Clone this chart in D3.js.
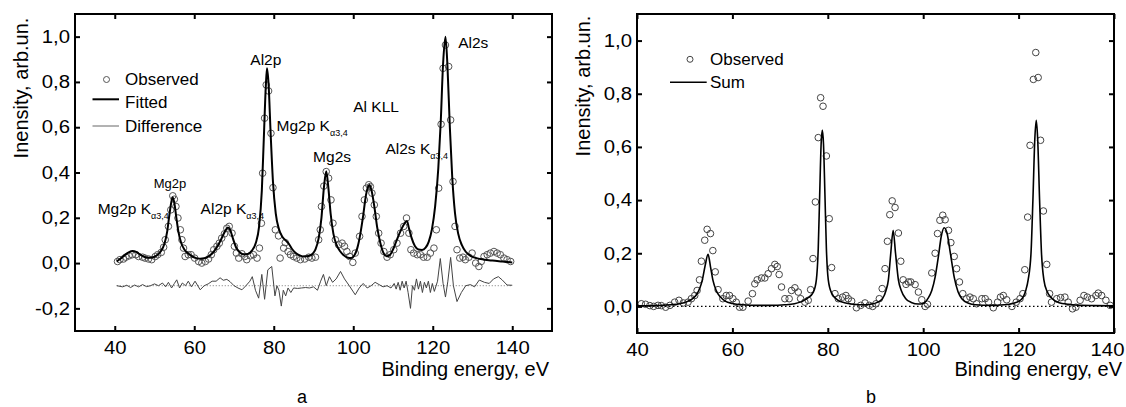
<!DOCTYPE html>
<html>
<head>
<meta charset="utf-8">
<script src="https://cdn.jsdelivr.net/npm/d3@7"></script>
<style>
  body { margin: 0; background: #fff; }
  svg { font-family: "Liberation Sans", Arial, sans-serif; }
  .tick text { font-size: 18px; fill: #000; }
  .tick line { stroke: #000; stroke-width: 2; }
</style>
</head>
<body>
<svg width="1126" height="407"></svg>
<script>
// ---- panel a: observed spectrum, fit and difference (energy eV, intensity)
const observedA = [
  [40.7,0.007],[41.3,0.015],[42.2,0.018],[42.8,0.026],[43.6,0.032],[44.4,0.037],[45.3,0.037],
  [46.0,0.029],[47.0,0.026],[47.6,0.022],[48.5,0.018],[49.3,0.015],[50.2,0.029],[50.8,0.037],
  [51.7,0.047],[52.3,0.070],[52.7,0.103],[53.5,0.162],[54.1,0.235],[54.6,0.297],[55.0,0.282],
  [55.4,0.250],[55.9,0.199],[56.5,0.147],[56.9,0.103],[57.3,0.066],[57.7,0.029],[58.5,0.037],
  [59.2,0.037],[60.1,0.022],[61.1,0.007],[61.9,0.000],[62.8,0.007],[63.6,0.018],[64.3,0.037],
  [64.9,0.059],[65.7,0.074],[66.3,0.088],[66.9,0.110],[67.6,0.129],[68.2,0.154],[68.8,0.162],
  [69.5,0.132],[70.1,0.074],[70.6,0.044],[71.2,0.022],[72.0,0.041],[72.7,0.029],[73.2,0.015],
  [74.1,0.032],[74.9,0.037],[75.8,0.022],[76.4,0.066],[76.9,0.176],[77.2,0.397],[77.7,0.640],
  [78.1,0.787],[78.7,0.760],[79.3,0.573],[79.8,0.333],[80.4,0.147],[81.2,0.120],[81.6,0.022],
  [82.5,0.066],[82.9,0.090],[83.6,0.051],[84.2,0.037],[85.0,0.029],[85.8,0.022],[86.7,0.015],
  [87.8,0.018],[88.8,0.026],[89.6,0.022],[90.5,0.026],[91.3,0.103],[91.7,0.147],[92.0,0.250],
  [92.6,0.340],[93.2,0.404],[93.8,0.375],[94.4,0.279],[94.9,0.176],[95.5,0.103],[96.3,0.081],
  [97.2,0.088],[97.8,0.074],[98.4,0.051],[99.1,0.029],[99.9,0.003],[100.5,0.044],[101.6,0.118],
  [102.2,0.206],[102.8,0.279],[103.3,0.331],[103.9,0.346],[104.3,0.338],[104.7,0.309],[105.3,0.257],
  [105.8,0.206],[106.4,0.132],[107.0,0.088],[107.7,0.051],[108.5,0.026],[109.3,0.037],[110.2,0.059],
  [111.0,0.088],[111.9,0.132],[112.7,0.162],[113.4,0.199],[114.0,0.132],[114.5,0.059],[115.2,0.044],
  [116.1,0.037],[116.9,0.037],[117.7,0.026],[118.6,0.026],[119.4,0.044],[120.3,0.066],[120.9,0.147],
  [121.5,0.331],[122.1,0.613],[122.6,0.860],[123.2,0.963],[124.0,0.868],[124.5,0.632],[125.1,0.360],
  [125.6,0.162],[126.1,0.059],[126.8,0.022],[127.6,0.026],[128.2,0.015],[129.1,0.026],[129.9,0.044],
  [130.8,0.000],[131.6,-0.015],[132.2,0.007],[132.9,0.029],[133.7,0.037],[134.5,0.044],[135.4,0.051],
  [136.2,0.044],[137.0,0.037],[137.9,0.022],[138.7,0.015],[139.6,0.007]
];

const fittedA = [
  [40.5,0.007],[41.5,0.02],[42.5,0.035],[43.5,0.047],[44.5,0.053],[45.5,0.048],[46.5,0.036],
  [47.5,0.027],[48.5,0.023],[49.5,0.025],[50.5,0.033],[51.5,0.05],[52.5,0.085],[53.2,0.14],
  [53.8,0.22],[54.3,0.275],[54.6,0.29],[55.0,0.265],[55.5,0.2],[56.0,0.14],[56.7,0.09],
  [57.5,0.06],[58.5,0.042],[59.5,0.03],[60.5,0.022],[61.5,0.019],[62.5,0.021],[63.5,0.028],
  [64.5,0.042],[65.5,0.065],[66.5,0.095],[67.3,0.125],[68.0,0.148],[68.5,0.157],[69.0,0.148],
  [69.7,0.11],[70.5,0.07],[71.5,0.047],[72.5,0.038],[73.5,0.04],[74.5,0.055],[75.5,0.09],
  [76.3,0.16],[77.0,0.32],[77.5,0.55],[78.0,0.78],[78.3,0.86],[78.7,0.79],[79.2,0.58],
  [79.8,0.36],[80.5,0.22],[81.3,0.15],[82.2,0.115],[83.0,0.1],[83.8,0.085],[84.7,0.06],
  [85.7,0.042],[86.7,0.033],[87.7,0.029],[88.7,0.031],[89.7,0.04],[90.5,0.06],[91.3,0.11],
  [92.0,0.2],[92.6,0.33],[93.2,0.405],[93.7,0.34],[94.3,0.22],[95.0,0.13],[95.8,0.08],
  [96.7,0.052],[97.7,0.033],[98.7,0.023],[99.5,0.022],[100.3,0.035],[101.0,0.065],[101.8,0.13],
  [102.5,0.21],[103.2,0.3],[103.7,0.335],[104.1,0.345],[104.6,0.32],[105.3,0.25],[106.0,0.16],
  [106.8,0.09],[107.6,0.045],[108.4,0.03],[109.2,0.035],[110.0,0.06],[110.8,0.095],[111.6,0.13],
  [112.4,0.16],[113.0,0.178],[113.5,0.186],[114.0,0.155],[114.7,0.11],[115.5,0.075],[116.4,0.06],
  [117.3,0.058],[118.2,0.068],[119.0,0.095],[119.8,0.15],[120.6,0.25],[121.4,0.42],[122.0,0.62],
  [122.6,0.88],[123.2,1.0],[123.7,0.87],[124.3,0.6],[124.9,0.38],[125.6,0.22],[126.4,0.13],
  [127.3,0.08],[128.3,0.05],[129.5,0.032],[131,0.022],[133,0.015],[135,0.011],[137.5,0.007],[140,0.003]
];

// difference curve as drawn (shifted down to the -0,1 level)
const differenceA = [
  [40.5,-0.100],[42,-0.105],[43,-0.098],[44,-0.108],[45,-0.097],[46,-0.105],[47,-0.095],[48,-0.104],
  [49,-0.100],[50,-0.092],[51,-0.100],[52,-0.088],[52.8,-0.105],[53.5,-0.085],[54.3,-0.110],[55,-0.090],
  [55.6,-0.074],[56.3,-0.110],[57,-0.088],[57.8,-0.100],[58.5,-0.080],[59.3,-0.105],[60.2,-0.080],
  [61.5,-0.118],[62.5,-0.100],[63.5,-0.092],[64.5,-0.080],[65.5,-0.080],[66.5,-0.065],[67.3,-0.076],
  [68.2,-0.072],[69,-0.082],[70,-0.100],[71,-0.110],[72,-0.118],[73,-0.100],[74,-0.080],[74.6,-0.060],
  [75.4,-0.120],[76.2,-0.155],[77,-0.050],[77.7,-0.160],[78.5,-0.030],[79.5,-0.015],[80.3,-0.145],
  [80.8,-0.100],[81.3,-0.120],[81.9,-0.190],[82.4,-0.120],[83,-0.145],[83.6,-0.110],[84.3,-0.130],
  [85,-0.110],[86,-0.112],[87,-0.110],[88,-0.108],[89,-0.110],[90,-0.105],[91,-0.120],[91.8,-0.080],
  [92.5,-0.050],[93.2,-0.100],[94,-0.060],[94.8,-0.085],[95.7,-0.070],[96.8,-0.037],[97.8,-0.070],
  [99,-0.100],[100.5,-0.140],[101.5,-0.110],[102.5,-0.090],[103.5,-0.110],[104.5,-0.100],[105.5,-0.085],
  [106.5,-0.095],[107.5,-0.105],[108.5,-0.100],[109.5,-0.110],[110.3,-0.090],[110.8,-0.115],
  [111.3,-0.085],[111.8,-0.120],[112.3,-0.080],[112.8,-0.110],[113.3,-0.080],[113.8,-0.130],
  [114.4,-0.200],[114.9,-0.100],[115.4,-0.120],[115.9,-0.070],[116.4,-0.115],[116.9,-0.080],
  [117.4,-0.130],[117.9,-0.085],[118.4,-0.110],[118.9,-0.080],[119.4,-0.130],[119.9,-0.090],
  [120.4,-0.125],[121.2,-0.080],[121.9,0.020],[122.6,-0.090],[123.2,-0.150],[123.8,-0.080],
  [124.5,0.025],[125.2,-0.100],[126.1,-0.170],[127.2,-0.130],[128.3,-0.100],[129.5,-0.095],
  [130.5,-0.105],[131.7,-0.075],[133,-0.085],[134.2,-0.090],[135.3,-0.070],[136.5,-0.060],
  [137.5,-0.075],[138.7,-0.097],[140,-0.098]
];
const differenceZero = -0.1;

// ---- panel b: observed spectrum and sum of components
const observedB = [
  [40.9,0.010],[41.8,0.008],[42.7,0.003],[43.5,0.000],[44.4,0.004],[45.1,0.003],[46.0,-0.003],
  [46.9,0.004],[47.9,0.016],[48.8,0.023],[49.7,0.013],[50.7,0.016],[51.4,0.029],[52.1,0.041],
  [52.6,0.060],[53.1,0.100],[53.5,0.170],[54.2,0.249],[54.7,0.290],[55.4,0.274],[55.9,0.210],
  [56.4,0.130],[57.0,0.063],[58.0,0.029],[58.7,0.041],[59.4,0.041],[60.1,0.029],[60.8,0.016],
  [61.5,-0.003],[62.2,-0.003],[63.3,0.020],[64.2,0.048],[64.7,0.085],[65.2,0.100],[66.1,0.107],
  [66.8,0.107],[67.5,0.123],[68.2,0.142],[68.9,0.158],[69.4,0.150],[69.8,0.120],[70.3,0.073],
  [71.0,0.029],[71.9,0.029],[72.4,0.060],[73.1,0.070],[73.8,0.054],[74.3,0.029],[75.2,0.016],
  [75.9,0.023],[76.4,0.063],[76.9,0.180],[77.4,0.393],[78.0,0.635],[78.5,0.785],[79.0,0.753],
  [79.7,0.566],[80.3,0.330],[80.8,0.146],[81.5,0.048],[82.2,0.029],[83.1,0.035],[83.8,0.041],
  [84.3,0.029],[85.0,0.020],[86.0,-0.005],[86.9,0.004],[87.8,0.013],[88.7,0.004],[89.4,0.000],
  [90.1,0.010],[90.8,0.029],[91.4,0.067],[92.0,0.142],[92.5,0.245],[93.0,0.345],[93.5,0.397],
  [94.1,0.372],[94.8,0.276],[95.3,0.170],[95.8,0.100],[96.4,0.083],[96.9,0.092],[97.4,0.092],
  [98.3,0.082],[99.0,0.054],[99.7,0.025],[100.4,0.000],[100.9,0.008],[101.8,0.126],[102.5,0.200],
  [103.0,0.274],[103.5,0.324],[104.1,0.343],[104.6,0.326],[105.3,0.286],[105.8,0.240],[106.5,0.188],
  [107.0,0.142],[107.6,0.092],[108.3,0.048],[109.1,0.029],[109.8,0.035],[110.5,0.029],[111.2,0.010],
  [112.3,0.029],[113.0,0.029],[113.7,0.016],[114.7,-0.005],[115.6,0.016],[116.2,0.035],[116.8,0.041],
  [117.5,0.025],[118.6,0.000],[119.5,0.016],[120.3,0.029],[120.9,0.048],[121.3,0.138],[121.9,0.336],
  [122.4,0.606],[123.1,0.854],[123.6,0.955],[124.1,0.861],[124.6,0.625],[125.2,0.359],[125.9,0.158],
  [126.5,0.048],[126.9,0.016],[128.0,0.029],[128.8,0.033],[129.7,0.035],[130.4,0.016],[131.3,-0.009],
  [132.0,-0.003],[132.9,0.023],[133.7,0.041],[134.4,0.035],[135.3,0.029],[136.2,0.041],[136.7,0.050],
  [137.4,0.041],[138.3,0.023],[139.2,0.004]
];

const sumB = [
  [40,0.002],[44,0.003],[47,0.006],[49,0.01],[50.5,0.018],[51.5,0.027],[52.5,0.045],[53.2,0.07],
  [53.7,0.1],[54.3,0.155],[54.9,0.196],[55.4,0.15],[55.9,0.1],[56.6,0.06],[57.5,0.035],[58.5,0.02],
  [60,0.011],[62,0.006],[65,0.004],[68,0.004],[71,0.006],[73,0.01],[74.5,0.018],[75.7,0.03],
  [77.0,0.055],[77.6,0.1],[78.0,0.22],[78.3,0.42],[78.6,0.61],[78.85,0.663],[79.1,0.61],[79.4,0.42],
  [79.7,0.22],[80.1,0.1],[80.8,0.05],[82,0.025],[83.5,0.014],[85.5,0.008],[87.5,0.006],[89,0.008],
  [90.5,0.016],[91.5,0.03],[92.2,0.06],[92.7,0.1],[93.2,0.2],[93.7,0.286],[94.2,0.2],[94.8,0.1],
  [95.4,0.06],[96.3,0.03],[97.5,0.015],[99,0.009],[100,0.011],[101,0.03],[101.8,0.06],[102.5,0.11],
  [103.2,0.19],[103.8,0.265],[104.4,0.296],[105.0,0.275],[105.7,0.2],[106.5,0.11],[107.3,0.055],
  [108.2,0.027],[109.5,0.012],[111,0.006],[114,0.004],[117,0.006],[119,0.012],[120.5,0.025],
  [121.5,0.06],[122.0,0.1],[122.6,0.2],[123.0,0.4],[123.4,0.63],[123.7,0.70],[124.0,0.63],
  [124.4,0.4],[124.8,0.2],[125.3,0.1],[126.0,0.055],[127,0.03],[128.5,0.014],[130.5,0.008],
  [133,0.004],[136,0.003],[140,0.002]
];

const xTicks = [40, 60, 80, 100, 120, 140];
const yTicksA = [-0.2, 0, 0.2, 0.4, 0.6, 0.8, 1.0];
const yTicksB = [0, 0.2, 0.4, 0.6, 0.8, 1.0];

// peak labels of panel a, anchored at (energy, intensity)
const peakLabels = [
  { text: 'Al2p', sub: '', x: 74.1, y: 0.875 },
  { text: 'Al2s', sub: '', x: 126.4, y: 0.948 },
  { text: 'Al KLL', sub: '', x: 100.0, y: 0.666 },
  { text: 'Mg2p K', sub: 'α3,4', x: 80.7, y: 0.585 },
  { text: 'Mg2s', sub: '', x: 89.9, y: 0.448 },
  { text: 'Al2s K', sub: 'α3,4', x: 108.1, y: 0.481 },
  { text: 'Mg2p', sub: '', x: 49.8, y: 0.331, small: true },
  { text: 'Mg2p K', sub: 'α3,4', x: 35.7, y: 0.217 },
  { text: 'Al2p K', sub: 'α3,4', x: 61.6, y: 0.217 }
];

const svg = d3.select('svg');
const yLabel = 'Inensity, arb.un.';
const xLabel = 'Binding energy, eV';

const commaFormat = d => d3.format('.1f')(d).replace('.', ',').replace('−', '-');

// the tick numbers in the scan are a bit wider than plain Arial
const widenTicks = (axisG, lastShift) => {
    const texts = axisG.selectAll('.tick text');
    const n = texts.size();
    texts.each(function (d, i) {
        const t = d3.select(this);
        const x = (+t.attr('x') || 0) + (i === n - 1 ? lastShift : 0);
        const y = +t.attr('y') || 0;
        t.attr('x', null).attr('y', null)
            .attr('transform', `translate(${x}, ${y}) scale(1.13, 1)`);
    });
};

const drawFrame = (g, xScale, yScale, w, h, yTicks, lastXShift) => {
    const bottom = g.append('g')
        .attr('transform', `translate(0, ${h})`)
        .call(d3.axisBottom(xScale).tickValues(xTicks).tickSize(-5).tickPadding(10).tickFormat(d3.format('d')));
    const left = g.append('g')
        .call(d3.axisLeft(yScale).tickValues(yTicks).tickSize(-5).tickPadding(5).tickFormat(commaFormat));
    const top = g.append('g')
        .call(d3.axisTop(xScale).tickValues(xTicks).tickSize(-5).tickFormat(''));
    const right = g.append('g')
        .attr('transform', `translate(${w}, 0)`)
        .call(d3.axisRight(yScale).tickValues(yTicks).tickSize(-5).tickFormat(''));
    [bottom, left, top, right].forEach(a => a.select('.domain').remove());
    widenTicks(bottom, lastXShift);
    widenTicks(left, 0);

    g.append('rect')
        .attr('width', w)
        .attr('height', h)
        .attr('fill', 'none')
        .attr('stroke', '#000')
        .attr('stroke-width', 2);
};

const render = () => {
    // ---------- panel a
    const wA = 477, hA = 317;
    const gA = svg.append('g').attr('transform', 'translate(75, 14)');
    const xA = d3.scaleLinear().domain([30, 150]).range([0, wA]);
    const yA = d3.scaleLinear().domain([-0.3, 1.1]).range([hA, 0]);

    const lineA = d3.line().x(d => xA(d[0])).y(d => yA(d[1]));

    gA.append('path')
        .attr('d', lineA([[40.5, differenceZero], [140, differenceZero]]))
        .attr('stroke', '#777')
        .attr('stroke-width', 1)
        .attr('stroke-dasharray', '1,2')
        .attr('fill', 'none');

    gA.append('path')
        .attr('d', lineA(differenceA))
        .attr('stroke', '#444')
        .attr('stroke-width', 1)
        .attr('fill', 'none');

    gA.selectAll('circle.obs')
        .data(observedA)
        .enter().append('circle')
        .attr('class', 'obs')
        .attr('cx', d => xA(d[0]))
        .attr('cy', d => yA(d[1]))
        .attr('r', 3.3)
        .attr('fill', 'none')
        .attr('stroke', '#555')
        .attr('stroke-width', 1);

    gA.append('path')
        .attr('d', lineA.curve(d3.curveMonotoneX)(fittedA))
        .attr('stroke', '#000')
        .attr('stroke-width', 2)
        .attr('fill', 'none');

    drawFrame(gA, xA, yA, wA, hA, yTicksA, 0);

    peakLabels.forEach(p => {
        const t = gA.append('text')
            .attr('x', xA(p.x))
            .attr('y', yA(p.y))
            .style('font-size', p.small ? '13px' : '15.5px')
            .text(p.text);
        if (p.sub) {
            t.append('tspan')
                .attr('dy', 5)
                .style('font-size', '9px')
                .text(p.sub);
        }
    });

    // legend a
    const legA = gA.append('g').style('font-size', '17px');
    legA.append('circle').attr('cx', 31.5).attr('cy', 65.5).attr('r', 3)
        .attr('fill', 'none').attr('stroke', '#555');
    legA.append('text').attr('x', 50).attr('y', 71).text('Observed');
    legA.append('line').attr('x1', 17.5).attr('x2', 44).attr('y1', 85.3).attr('y2', 85.3)
        .attr('stroke', '#000').attr('stroke-width', 2);
    legA.append('text').attr('x', 50).attr('y', 93.7).text('Fitted');
    legA.append('line').attr('x1', 17.5).attr('x2', 44).attr('y1', 112).attr('y2', 112)
        .attr('stroke', '#666').attr('stroke-width', 1);
    legA.append('text').attr('x', 50).attr('y', 117.7).text('Difference');

    // ---------- panel b
    const wB = 477, hB = 319;
    const gB = svg.append('g').attr('transform', 'translate(637, 14)');
    const xB = d3.scaleLinear().domain([40, 140]).range([0, wB]);
    const yB = d3.scaleLinear().domain([-0.1, 1.1]).range([hB, 0]);
    const lineB = d3.line().x(d => xB(d[0])).y(d => yB(d[1]));

    gB.append('path')
        .attr('d', lineB([[40, 0], [140, 0]]))
        .attr('stroke', '#000')
        .attr('stroke-width', 1.3)
        .attr('stroke-dasharray', '1.5,2.5')
        .attr('fill', 'none');

    gB.selectAll('circle.obs')
        .data(observedB)
        .enter().append('circle')
        .attr('class', 'obs')
        .attr('cx', d => xB(d[0]))
        .attr('cy', d => yB(d[1]))
        .attr('r', 3.3)
        .attr('fill', 'none')
        .attr('stroke', '#444')
        .attr('stroke-width', 1);

    gB.append('path')
        .attr('d', lineB.curve(d3.curveMonotoneX)(sumB))
        .attr('stroke', '#000')
        .attr('stroke-width', 1.6)
        .attr('fill', 'none');

    drawFrame(gB, xB, yB, wB, hB, yTicksB, -7);

    const legB = gB.append('g').style('font-size', '17px');
    legB.append('circle').attr('cx', 53).attr('cy', 45.3).attr('r', 3)
        .attr('fill', 'none').attr('stroke', '#444');
    legB.append('text').attr('x', 73).attr('y', 51).text('Observed');
    legB.append('line').attr('x1', 33).attr('x2', 69.7).attr('y1', 68.3).attr('y2', 68.3)
        .attr('stroke', '#000').attr('stroke-width', 1.5);
    legB.append('text').attr('x', 73).attr('y', 74.3).text('Sum');

    // ---------- titles
    const titles = svg.append('g').style('font-size', '20px');
    titles.append('text')
        .attr('transform', 'translate(28, 88) rotate(-90)')
        .style('text-anchor', 'middle')
        .text(yLabel);
    titles.append('text')
        .attr('transform', 'translate(590, 86) rotate(-90)')
        .style('text-anchor', 'middle')
        .text(yLabel);
    titles.append('text')
        .attr('x', 549).attr('y', 376)
        .style('text-anchor', 'end')
        .text(xLabel);
    titles.append('text')
        .attr('x', 1122).attr('y', 376)
        .style('text-anchor', 'end')
        .text(xLabel);
    titles.append('text').attr('x', 297).attr('y', 403).style('font-size', '18px').text('a');
    titles.append('text').attr('x', 866).attr('y', 403).style('font-size', '18px').text('b');
};

render();
</script>
</body>
</html>
